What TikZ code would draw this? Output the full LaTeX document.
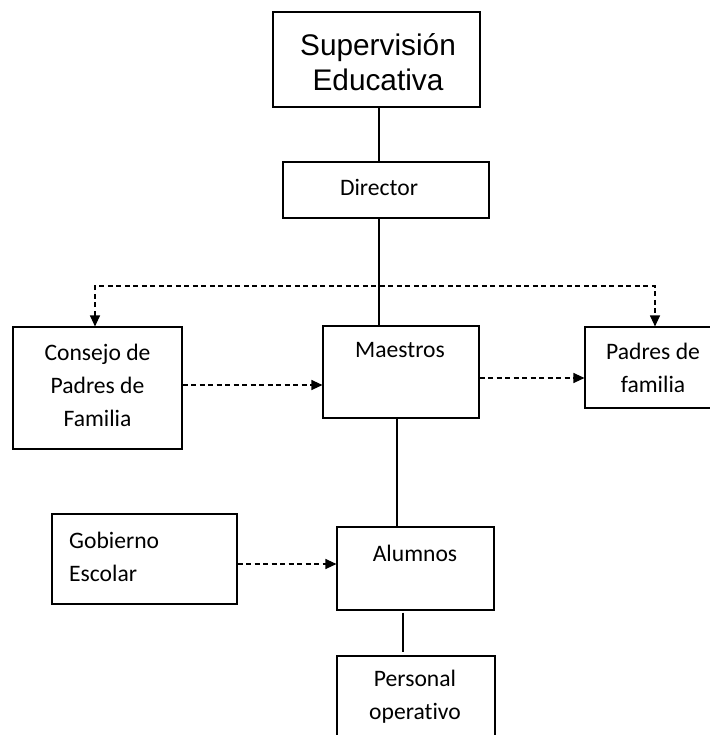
\documentclass[tikz,border=0pt]{standalone}
\usepackage{fontspec}
\setmainfont{Carlito}[Ligatures=NoCommon]
\newfontfamily\arialfont{Liberation Sans}
\usetikzlibrary{arrows.meta}
\tikzset{
  box/.style={draw, line width=1.1bp, inner sep=0pt},
  lbl/.style={inner sep=0pt, align=center, font=\fontsize{23.6bp}{33bp}\selectfont},
  lbll/.style={inner sep=0pt, align=left, anchor=west, font=\fontsize{23.6bp}{33bp}\selectfont},
  big/.style={inner sep=0pt, align=center, font=\arialfont\fontsize{29.8bp}{35bp}\selectfont},
  conn/.style={line width=1.1bp},
  dashconn/.style={line width=1.1bp, dash pattern=on 5bp off 3.5bp, arrows={-{Triangle[length=11bp,width=10bp]}}}
}
\begin{document}
\begin{tikzpicture}[x=1bp,y=-1bp]
\useasboundingbox (0,0) rectangle (710,735);
\clip (0,0) rectangle (710,735);
% boxes
\node[box, minimum width=207bp, minimum height=95bp] (sup) at (376.5,59.5) {};
\node[box, minimum width=206bp, minimum height=56bp] (dir) at (386,190) {};
\node[box, minimum width=169bp, minimum height=122bp] (cons) at (97.5,388) {};
\node[box, minimum width=156bp, minimum height=92bp] (maes) at (401,372) {};
\node[box, minimum width=140bp, minimum height=81bp] (pad) at (655,367.5) {};
\node[box, minimum width=185bp, minimum height=90bp] (gob) at (144.5,559) {};
\node[box, minimum width=157bp, minimum height=83bp] (alum) at (415.5,568.5) {};
\node[box, minimum width=158bp, minimum height=104bp] (pers) at (416,708) {};
% texts
\node[big] (tsup) at (378,62.5) {Supervisión\\Educativa};
\node[lbl] (tdir) at (379,187) {Director};
\node[lbl] (tcons) at (97.5,385) {Consejo de\\Padres de\\Familia};
\node[lbl] (tmaes) at (400,350) {Maestros};
\node[lbl] (tpad) at (653,367.5) {Padres de\\familia};
\node[lbll] (tgob) at (69,556.5) {Gobierno\\Escolar};
\node[lbl] (talum) at (415,553) {Alumnos};
\node[lbl] (tpers) at (415,696.5) {Personal\\operativo};
% connector helpers
\coordinate (jl) at (95,286);
\coordinate (jr) at (655,286);
\coordinate (xa) at (379,0);
\coordinate (xb) at (397,0);
\coordinate (xc) at (403,0);
% solid connectors
\draw[conn] (sup.south -| xa) -- (dir.north -| xa);
\draw[conn] (dir.south -| xa) -- (maes.north -| xa);
\draw[conn] (maes.south -| xb) -- (alum.north -| xb);
\draw[conn] ([yshift=-2bp]alum.south -| xc) -- ([yshift=3bp]pers.north -| xc);
% dashed connectors
\draw[dashconn, arrows={{Triangle[length=11bp,width=10bp]}-{Triangle[length=11bp,width=10bp]}}]
  (cons.north -| jl) -- (jl) -- (jr) -- (pad.north -| jr);
\draw[dashconn] (cons.east |- 0,385) -- (maes.west |- 0,385);
\draw[dashconn] (maes.east |- 0,378) -- (pad.west |- 0,378);
\draw[dashconn] (gob.east |- 0,564) -- (alum.west |- 0,564);
\end{tikzpicture}
\end{document}
